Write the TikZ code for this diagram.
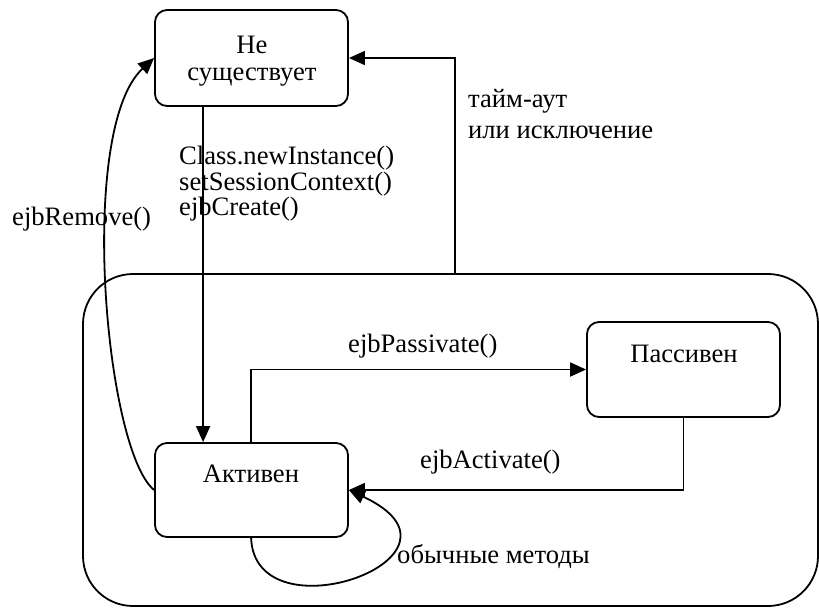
\documentclass[tikz,border=0pt]{standalone}
\usepackage{fontspec}
\setmainfont{Liberation Serif}
\usetikzlibrary{arrows.meta}
\begin{document}
\begin{tikzpicture}[x=1pt,y=-1pt,
  every node/.style={font=\fontsize{26.6}{27}\selectfont},
  state/.style={draw, line width=1.8pt, rounded corners=12pt, inner sep=0pt},
  lbl/.style={inner sep=0pt},
  conn/.style={line width=1.8pt, -{Triangle[length=16pt,width=14pt]}}]
\fill[white] (0,0) rectangle (819,608);
\useasboundingbox (0,0) rectangle (819,608);
% outer superstate
\node[draw, line width=1.8pt, rounded corners=50pt, minimum width=735pt, minimum height=332pt, inner sep=0pt] (big) at (450.5,440) {};
% states
\node[state, minimum width=193pt, minimum height=96pt] (ne) at (251.5,58) {};
\node[state, minimum width=193pt, minimum height=94pt] (act) at (251.5,490) {};
\node[state, minimum width=193pt, minimum height=95pt] (pas) at (683.5,369.5) {};
% state texts
\node[lbl, anchor=base] (t1) at (252,53) {Не};
\node[lbl, anchor=base] (t2) at (252,80) {существует};
\node[lbl, anchor=base] (t3) at (251,482) {Активен};
\node[lbl, anchor=base] (t4) at (684,362) {Пассивен};
% labels
\node[lbl, anchor=base west] (l1) at (179,164) {Class.newInstance()};
\node[lbl, anchor=base west] (l2) at (179,190) {setSessionContext()};
\node[lbl, anchor=base west] (l3) at (179,215) {ejbCreate()};
\node[lbl, anchor=base west] (l4) at (12,225) {ejbRemove()};
\node[lbl, anchor=base west] (l5) at (468,107) {тайм-аут};
\node[lbl, anchor=base west] (l6) at (468,138) {или исключение};
\node[lbl, anchor=base west] (l7) at (348,352) {ejbPassivate()};
\node[lbl, anchor=base west] (l8) at (420,468) {ejbActivate()};
\node[lbl, anchor=base west] (l9) at (397,563) {обычные методы};
% connectors
\draw[conn] ([xshift=49pt]ne.south west) -- ([xshift=49pt]act.north west);
\draw[conn] ([xshift=97pt]act.north west) |- (pas.west);
\draw[conn] (pas.south) |- (act.east);
\draw[conn] ([xshift=4.5pt]big.north) |- (ne.east);
\draw[conn] (act.west) .. controls (105,450) and (77,129) .. (ne.west);
\draw[conn] ([xshift=97pt]act.south west) .. controls (255,640) and (490,556) .. (act.east);
\end{tikzpicture}
\end{document}
